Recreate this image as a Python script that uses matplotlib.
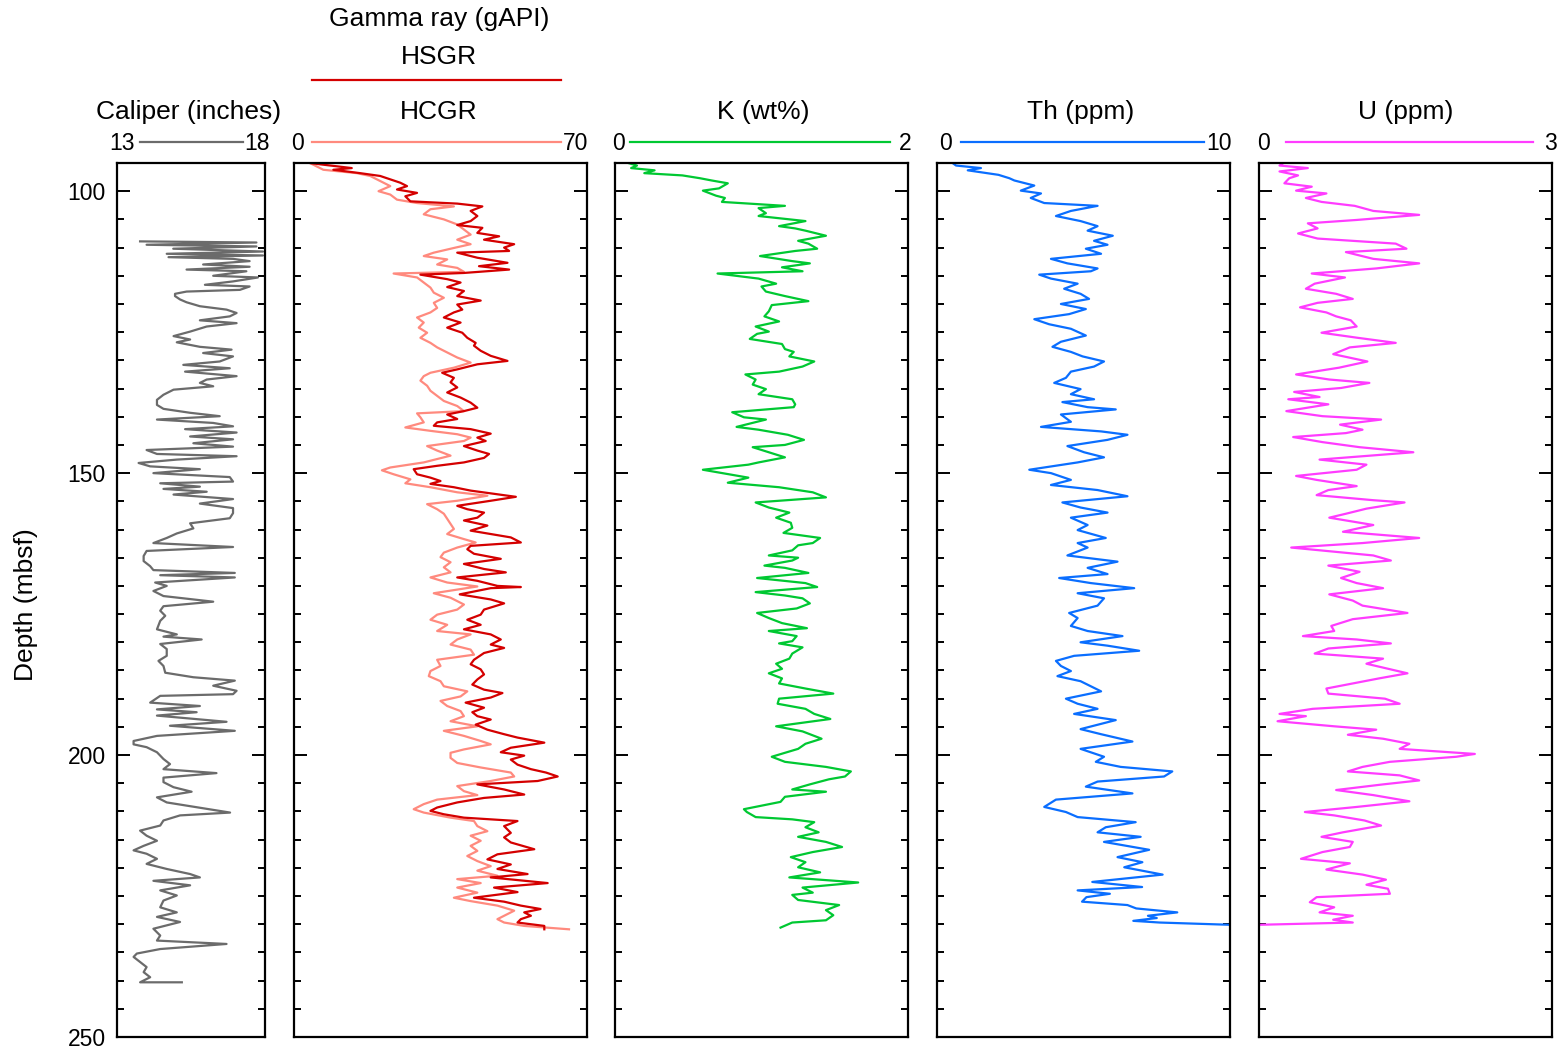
import matplotlib
matplotlib.use("Agg")
import matplotlib.pyplot as plt
from matplotlib.lines import Line2D
from matplotlib.ticker import FixedLocator, MultipleLocator

plt.rcParams['font.family'] = ['Liberation Sans', 'DejaVu Sans']

# ---------------------------------------------------------------- log data
# (depth mbsf, value) pairs for each curve
CALIPER = [(108.9,13.78),(109.1,17.71),(109.5,14.0),(109.8,17.71),(110.2,14.9),(110.7,17.93),(111.1,14.68),(111.4,17.93),(111.7,14.74),(112.0,16.92),(112.4,17.48),(113.0,15.91),(113.4,17.48),(113.9,15.35),(114.2,17.37),(115.0,16.25),(115.3,17.76),(116.0,16.92),(116.6,15.97),(116.9,17.48),(117.5,17.15),(117.8,15.35),(118.2,14.96),(118.6,14.96),(119.2,15.13),(119.7,15.35),(120.4,15.8),(121.0,16.7),(121.6,17.04),(122.2,16.81),(122.9,15.8),(123.4,17.04),(124.0,16.03),(124.9,15.47),(125.7,14.91),(126.3,15.47),(126.8,15.02),(127.6,15.8),(128.1,16.87),(128.7,15.91),(129.3,16.92),(130.2,16.47),(130.8,15.24),(131.4,16.81),(132.0,15.3),(132.8,17.04),(133.4,16.03),(134.0,15.8),(134.6,16.25),(135.2,14.91),(136.1,14.57),(137.0,14.35),(137.9,14.35),(138.6,14.57),(139.3,15.47),(139.9,16.47),(140.5,14.35),(141.1,16.25),(141.7,16.92),(142.2,15.3),(142.8,17.04),(143.5,15.47),(144.0,16.92),(144.7,15.58),(145.3,16.92),(145.9,14.0),(146.6,14.35),(147.0,17.04),(147.6,15.02),(148.2,13.73),(148.8,14.12),(149.3,15.8),(150.0,14.23),(150.7,16.81),(151.5,16.92),(151.8,14.46),(152.4,15.8),(152.8,14.57),(153.3,16.03),(153.8,14.91),(154.6,16.92),(155.4,15.8),(156.2,16.92),(157.1,16.92),(158.0,16.81),(158.9,15.47),(159.8,15.58),(160.7,15.02),(161.5,14.68),(162.4,14.23),(163.1,16.92),(163.8,14.0),(164.7,13.9),(165.6,13.9),(166.5,14.12),(167.2,14.23),(167.7,16.98),(168.1,14.46),(168.5,16.98),(169.4,14.29),(170.0,14.68),(170.9,14.23),(171.8,14.57),(172.3,15.41),(172.8,16.25),(173.6,14.57),(174.4,14.46),(175.3,14.63),(176.2,14.46),(177.7,14.35),(178.6,15.02),(179.0,14.57),(179.5,15.86),(180.3,14.46),(181.2,14.68),(182.4,14.68),(183.3,14.4),(184.2,14.57),(185.4,14.63),(186.2,15.58),(186.8,16.98),(187.7,16.25),(188.6,17.04),(189.2,16.92),(189.5,14.46),(190.7,14.12),(191.3,15.8),(191.9,14.35),(192.4,15.69),(193.0,14.35),(194.1,16.7),(194.8,14.79),(195.7,16.98),(196.6,14.35),(197.5,13.56),(198.1,13.56),(198.6,14.0),(199.5,14.35),(200.7,14.57),(201.6,14.79),(202.5,14.57),(203.2,16.36),(204.0,14.57),(204.8,14.57),(205.7,14.91),(206.5,15.52),(207.5,14.35),(208.4,14.68),(210.2,16.82),(210.7,15.13),(211.6,14.57),(212.5,14.46),(213.4,13.78),(214.3,14.0),(215.2,14.35),(216.1,13.9),(216.9,13.56),(217.5,14.0),(218.4,14.35),(219.3,14.0),(220.2,14.68),(221.1,15.47),(221.7,15.8),(222.3,14.23),(223.1,15.47),(224.0,14.46),(224.9,15.02),(225.8,14.57),(227.0,14.46),(227.9,15.02),(228.7,14.35),(229.6,15.13),(230.8,14.23),(232.0,14.46),(232.9,14.35),(233.5,16.7),(234.4,14.46),(235.2,13.67),(235.8,13.56),(236.7,13.78),(237.6,14.0),(238.5,13.9),(239.4,14.12),(240.3,13.78),(240.3,15.19)]

HSGR = [(95.0,3.8),(95.3,7.0),(95.9,13.8),(96.2,9.4),(96.8,15.8),(97.3,20.6),(97.9,23.0),(98.5,25.4),(99.1,27.0),(99.7,24.6),(100.3,29.4),(100.9,26.6),(101.8,27.8),(102.2,39.0),(102.7,45.0),(103.5,42.2),(104.4,43.8),(105.3,42.2),(106.0,39.0),(106.5,45.0),(107.4,43.8),(108.0,49.0),(108.6,45.4),(109.4,52.6),(110.0,50.2),(110.6,51.4),(110.9,39.0),(111.8,43.8),(112.7,51.0),(113.3,44.2),(113.9,51.4),(114.5,40.6),(114.8,30.2),(115.6,36.6),(116.2,39.8),(117.0,36.6),(117.7,40.6),(118.6,39.0),(119.4,44.6),(120.1,39.0),(121.0,40.2),(121.5,38.2),(122.4,35.8),(123.3,39.8),(124.2,36.6),(125.1,40.2),(126.0,41.4),(126.9,43.4),(127.4,43.0),(128.3,44.6),(129.2,47.0),(130.1,51.0),(130.7,43.8),(131.6,39.0),(132.2,35.4),(133.1,38.2),(133.9,37.4),(134.8,39.0),(135.7,36.6),(136.6,39.8),(137.5,42.2),(138.4,43.8),(139.0,40.6),(139.6,36.6),(140.4,39.0),(141.0,34.2),(141.6,33.4),(142.2,42.2),(143.0,47.0),(143.7,43.8),(144.3,45.8),(145.2,40.6),(146.0,43.8),(146.6,46.6),(147.3,45.4),(148.1,40.6),(148.7,34.2),(149.3,28.6),(150.2,29.4),(150.8,32.6),(151.4,35.0),(151.9,32.6),(152.5,38.2),(153.1,42.2),(154.2,53.0),(154.9,47.0),(155.8,39.0),(156.4,41.4),(157.0,45.4),(157.9,43.8),(158.4,40.6),(159.3,46.2),(160.2,42.2),(160.8,47.0),(161.4,51.8),(162.3,54.2),(162.9,42.2),(163.5,41.4),(164.3,43.0),(165.2,49.4),(166.1,40.6),(167.0,45.4),(167.6,50.6),(168.5,39.0),(169.1,43.8),(170.0,48.6),(170.2,54.2),(170.4,47.0),(171.5,39.6),(172.4,47.0),(173.1,50.2),(174.2,45.4),(175.1,44.6),(176.0,41.4),(176.9,44.6),(177.7,40.6),(178.6,47.0),(179.5,49.4),(180.4,47.0),(181.0,50.2),(181.9,45.4),(183.1,43.0),(183.9,42.2),(184.8,44.6),(185.7,45.4),(186.6,43.8),(187.5,42.6),(188.4,45.4),(189.0,49.8),(189.8,47.0),(190.7,41.0),(191.6,45.4),(192.4,42.6),(193.1,43.8),(193.7,47.0),(194.6,43.4),(195.5,46.2),(196.3,50.2),(196.9,53.4),(197.8,59.8),(198.7,51.8),(199.5,49.4),(200.1,55.0),(200.8,51.8),(201.7,53.4),(202.5,56.6),(203.1,60.2),(203.8,63.0),(204.6,58.2),(205.2,43.8),(206.1,50.2),(207.0,55.0),(207.6,45.4),(208.4,39.0),(209.3,34.2),(209.9,32.6),(210.5,35.8),(211.1,40.6),(211.7,53.4),(212.6,50.2),(213.8,51.8),(214.6,50.2),(215.5,51.8),(216.7,57.4),(217.6,48.6),(218.5,46.2),(219.4,51.8),(220.2,48.6),(221.1,55.8),(221.7,47.0),(222.7,60.6),(223.5,47.8),(224.3,53.4),(225.3,43.0),(226.0,50.2),(226.7,54.2),(227.3,58.9),(227.9,55.0),(228.5,56.6),(229.1,54.2),(229.7,53.4),(230.3,59.8),(230.9,59.8)]

HCGR = [(95.0,3.8),(95.6,5.4),(96.2,7.0),(96.8,15.0),(97.3,18.2),(98.2,20.6),(99.1,23.0),(100.0,20.2),(100.6,23.0),(101.5,24.6),(102.1,29.4),(102.7,38.2),(103.2,32.6),(104.1,31.0),(105.0,35.8),(105.9,39.0),(106.8,40.6),(107.7,42.2),(108.6,39.0),(109.4,42.2),(110.0,38.6),(110.9,33.4),(111.5,31.0),(112.1,36.6),(113.0,34.2),(113.6,39.0),(114.3,40.6),(114.6,23.8),(115.3,29.4),(116.2,31.0),(117.1,32.6),(118.0,33.4),(118.9,35.8),(119.8,33.4),(120.7,34.2),(121.5,32.6),(122.4,29.4),(123.3,31.0),(124.2,29.8),(125.1,31.8),(126.0,30.2),(126.9,32.6),(127.7,34.2),(128.6,36.6),(129.5,39.0),(130.4,42.2),(131.3,38.2),(132.2,32.6),(132.8,31.0),(133.6,30.2),(134.5,31.8),(135.4,32.6),(136.3,34.2),(137.2,35.8),(138.1,39.0),(139.0,40.6),(139.4,29.4),(140.1,30.2),(141.0,31.0),(141.9,26.6),(142.5,32.6),(143.1,39.0),(143.7,42.2),(144.3,40.6),(145.2,31.8),(146.0,34.2),(146.9,37.4),(147.5,34.2),(148.1,31.0),(149.0,23.0),(149.5,21.0),(150.2,23.8),(151.1,27.8),(151.8,26.6),(152.5,32.6),(153.4,39.0),(154.0,46.2),(154.9,39.0),(155.5,31.8),(156.4,34.2),(157.2,35.8),(158.1,36.6),(159.0,37.4),(159.9,38.2),(160.8,36.6),(161.7,40.6),(162.3,43.4),(163.2,39.0),(164.1,35.8),(164.9,35.0),(165.8,37.4),(166.7,35.8),(167.6,37.4),(168.5,32.6),(169.4,36.6),(170.1,43.8),(171.3,33.4),(172.1,37.4),(173.3,40.6),(174.2,39.0),(175.1,34.2),(176.0,32.6),(176.9,36.6),(178.0,34.2),(178.6,42.2),(179.5,39.0),(180.4,37.4),(181.3,42.2),(182.2,43.0),(183.1,34.2),(184.2,35.0),(185.1,32.6),(186.0,32.2),(186.9,35.0),(187.8,35.8),(188.7,41.4),(189.6,39.8),(190.4,35.0),(191.3,36.6),(192.2,39.8),(193.1,40.6),(194.0,37.4),(194.9,43.8),(195.7,35.8),(196.6,40.6),(197.5,44.6),(198.1,47.0),(199.0,40.6),(199.6,37.4),(200.5,37.4),(201.4,39.0),(202.2,44.6),(203.1,51.8),(203.8,52.6),(204.6,47.0),(205.5,39.0),(206.4,40.6),(207.1,43.8),(207.9,34.2),(208.7,31.0),(209.6,28.6),(210.2,31.0),(211.1,37.4),(211.7,43.0),(212.6,43.8),(213.5,46.2),(214.3,42.2),(215.2,44.6),(216.1,42.2),(217.0,43.8),(217.9,41.4),(218.8,43.8),(219.7,47.0),(220.5,43.8),(221.4,48.6),(222.0,39.0),(222.7,44.6),(223.5,39.0),(224.4,43.8),(225.3,38.2),(225.9,42.2),(226.7,48.6),(227.6,52.6),(228.5,50.2),(229.1,48.6),(229.7,50.2),(230.3,55.0),(230.9,65.7)]

POTASSIUM = [(95.0,0.09),(95.45,0.15),(95.9,0.11),(96.3,0.27),(96.8,0.2),(97.2,0.46),(97.7,0.58),(98.1,0.66),(98.6,0.77),(99.5,0.71),(99.9,0.6),(100.8,0.69),(101.2,0.75),(101.9,0.73),(102.6,1.16),(103.0,0.98),(103.9,1.03),(104.4,0.98),(104.8,1.12),(105.3,1.3),(106.2,1.12),(106.6,1.23),(107.0,1.3),(107.9,1.44),(108.8,1.25),(109.3,1.32),(110.2,1.38),(110.6,1.23),(111.5,0.99),(112.4,1.21),(112.8,1.33),(113.5,1.14),(114.2,1.28),(114.6,0.7),(115.5,0.98),(116.4,1.1),(116.9,1.0),(117.8,1.03),(118.6,1.16),(119.5,1.32),(120.2,1.07),(121.3,1.05),(122.2,1.02),(123.1,1.12),(124.0,0.96),(124.9,1.05),(125.3,0.97),(126.2,0.92),(127.1,1.14),(128.0,1.16),(128.5,1.22),(129.3,1.19),(130.2,1.36),(131.1,1.28),(132.0,1.12),(132.5,0.89),(133.4,0.96),(134.3,0.94),(135.1,1.03),(136.0,0.98),(136.9,1.21),(137.8,1.23),(138.3,1.22),(139.2,0.8),(140.1,0.88),(140.5,1.03),(141.8,0.83),(142.3,0.98),(143.2,1.18),(144.1,1.29),(145.0,1.16),(145.4,0.94),(146.3,1.05),(147.2,1.16),(148.1,0.98),(148.5,0.91),(149.4,0.6),(149.9,0.71),(150.8,0.91),(151.7,0.77),(152.5,1.12),(153.4,1.35),(154.3,1.44),(155.2,0.96),(156.1,1.05),(157.0,1.19),(157.9,1.1),(158.8,1.2),(159.7,1.21),(160.6,1.15),(161.5,1.4),(162.4,1.35),(162.8,1.25),(163.7,1.21),(164.6,1.05),(165.0,1.25),(165.5,1.21),(166.4,1.02),(166.8,1.16),(167.7,1.32),(168.6,0.97),(169.5,1.3),(170.2,1.38),(171.1,0.96),(171.7,1.16),(172.2,1.28),(173.1,1.33),(174.0,1.24),(174.8,0.97),(175.7,1.05),(176.6,1.14),(177.5,1.31),(178.0,1.05),(178.9,1.24),(179.8,1.21),(180.2,1.12),(180.9,1.28),(182.0,1.21),(182.9,1.19),(183.8,1.1),(184.7,1.14),(185.5,1.05),(186.4,1.14),(187.3,1.12),(188.2,1.3),(189.1,1.49),(190.0,1.12),(190.9,1.11),(191.8,1.3),(192.7,1.36),(193.6,1.47),(194.9,1.1),(195.8,1.28),(197.1,1.41),(198.0,1.3),(198.9,1.25),(200.3,1.07),(201.2,1.16),(202.1,1.44),(202.9,1.61),(203.8,1.57),(204.3,1.46),(205.2,1.33),(206.1,1.21),(206.5,1.44),(207.4,1.16),(208.3,1.13),(209.6,0.88),(210.1,0.9),(211.0,0.96),(211.4,1.21),(211.9,1.36),(212.8,1.3),(213.7,1.39),(214.5,1.25),(215.4,1.44),(216.3,1.55),(217.2,1.35),(218.1,1.2),(219.0,1.3),(219.9,1.25),(220.8,1.4),(221.7,1.19),(222.6,1.66),(223.5,1.28),(224.4,1.35),(224.8,1.21),(225.7,1.25),(226.6,1.53),(227.5,1.44),(228.4,1.49),(229.3,1.44),(229.7,1.21),(230.6,1.13)]

THORIUM = [(95.0,0.53),(95.45,0.65),(95.9,1.5),(96.3,1.05),(97.1,2.1),(97.7,2.47),(98.1,2.64),(99.0,3.32),(99.9,2.86),(100.4,3.55),(101.2,3.2),(102.1,3.66),(102.6,5.48),(103.5,4.57),(104.4,4.06),(105.3,4.9),(106.2,5.48),(107.0,5.14),(107.9,6.0),(108.8,5.36),(109.5,5.82),(110.2,5.08),(111.1,5.6),(112.0,3.89),(112.8,4.45),(113.7,5.48),(114.2,5.25),(114.8,3.49),(115.5,3.89),(116.4,4.8),(117.3,4.34),(118.2,4.9),(119.1,5.19),(120.0,4.23),(120.9,5.08),(121.8,4.51),(122.7,3.32),(123.6,3.83),(124.4,4.57),(125.6,5.08),(126.7,4.23),(127.6,3.94),(128.5,4.57),(129.3,4.97),(130.2,5.7),(131.1,5.36),(132.0,4.57),(133.1,4.4),(134.0,4.0),(135.1,4.9),(136.0,4.57),(136.9,5.36),(137.4,4.28),(138.3,5.14),(138.7,6.1),(139.6,4.23),(140.9,4.57),(141.8,3.55),(142.6,5.6),(143.2,6.5),(144.1,5.82),(145.2,4.45),(146.3,5.02),(147.2,5.7),(148.1,4.8),(149.4,3.15),(150.0,3.89),(151.2,4.57),(152.1,3.89),(153.0,5.48),(154.1,6.5),(155.2,4.28),(156.1,4.9),(157.0,5.82),(157.9,4.57),(159.2,5.14),(160.1,4.8),(161.5,5.76),(162.4,4.8),(163.2,5.14),(164.6,4.45),(165.7,6.16),(166.8,5.14),(167.9,5.82),(168.6,4.17),(169.5,5.25),(170.4,6.73),(171.3,4.8),(172.2,5.7),(173.5,5.48),(174.8,4.51),(175.7,4.8),(177.1,4.57),(178.0,5.14),(178.9,6.33),(180.0,4.9),(180.6,5.82),(181.5,6.9),(182.4,4.68),(183.3,4.06),(184.2,4.23),(185.1,4.57),(186.0,4.11),(186.9,4.9),(187.8,5.25),(188.7,5.6),(190.0,4.4),(190.9,4.8),(191.8,5.48),(192.7,4.68),(193.8,6.1),(195.4,4.9),(196.3,5.6),(197.6,6.67),(198.9,4.9),(200.3,5.7),(201.2,5.42),(202.1,6.27),(202.9,8.03),(203.8,7.75),(204.7,5.48),(205.6,5.08),(206.8,6.67),(207.9,4.06),(209.2,3.66),(210.1,4.4),(211.0,4.8),(211.9,6.78),(212.8,5.76),(213.7,5.48),(214.5,6.95),(215.4,5.7),(216.8,7.24),(218.1,6.16),(219.0,7.01),(219.9,6.39),(221.2,7.7),(222.5,5.3),(223.4,7.0),(224.0,4.8),(224.6,5.9),(225.2,5.1),(226.0,4.95),(226.6,6.5),(227.2,6.8),(227.9,8.2),(228.5,7.2),(228.9,7.5),(229.4,6.7),(229.7,7.6),(230.1,10.0)]

URANIUM = [(95.0,0.25),(95.45,0.21),(95.9,0.5),(96.5,0.21),(97.2,0.4),(97.7,0.31),(98.6,0.26),(99.2,0.54),(99.9,0.38),(100.4,0.69),(101.2,0.48),(101.9,0.64),(102.6,0.98),(103.5,1.17),(104.2,1.64),(105.1,1.0),(105.7,0.5),(106.6,0.6),(107.5,0.4),(108.4,0.6),(109.3,1.4),(110.2,1.51),(110.8,0.89),(112.0,1.17),(112.8,1.64),(113.7,1.2),(114.6,0.54),(115.3,0.88),(116.4,0.57),(117.3,0.48),(118.2,0.79),(119.1,0.96),(119.8,0.6),(120.6,0.42),(121.5,0.69),(122.2,0.79),(122.9,0.94),(124.0,1.0),(125.1,0.64),(126.0,1.01),(126.9,1.4),(127.7,0.93),(128.9,0.76),(130.2,1.11),(131.3,0.82),(132.5,0.38),(133.4,0.72),(134.0,1.13),(134.9,0.84),(135.6,0.36),(136.5,0.62),(136.9,0.3),(137.8,0.71),(139.0,0.28),(139.9,0.65),(140.5,1.25),(141.4,0.83),(142.3,1.06),(142.9,0.89),(143.6,0.35),(144.5,0.65),(145.4,1.03),(146.3,1.58),(147.6,0.62),(148.5,1.1),(149.4,1.0),(150.5,0.38),(151.2,0.59),(152.3,1.0),(153.0,0.71),(153.9,0.59),(154.8,1.17),(155.2,1.49),(156.3,1.1),(157.2,0.89),(157.9,0.72),(159.2,1.17),(160.4,0.86),(161.5,1.64),(162.4,1.06),(163.2,0.33),(164.6,1.17),(165.5,1.35),(166.4,0.71),(167.5,1.03),(168.6,0.84),(169.5,1.0),(170.4,1.27),(171.5,0.72),(172.6,0.96),(173.5,1.06),(174.8,1.52),(175.9,0.96),(177.1,0.74),(178.0,0.77),(178.9,0.45),(179.5,1.0),(180.2,1.35),(181.1,0.71),(182.0,0.57),(182.9,1.27),(183.8,1.1),(184.7,1.32),(185.5,1.52),(186.4,1.23),(187.3,0.96),(188.2,0.69),(189.1,0.71),(190.0,1.29),(190.9,1.44),(191.8,0.55),(192.7,0.21),(193.1,0.48),(194.0,0.19),(194.9,0.77),(195.5,1.2),(196.4,0.91),(197.1,1.27),(198.0,1.54),(198.9,1.44),(199.8,2.21),(200.3,2.02),(201.2,1.34),(202.1,1.06),(202.9,0.91),(203.6,1.44),(204.5,1.64),(205.2,1.27),(206.2,0.79),(207.1,1.17),(208.2,1.54),(209.2,1.0),(210.1,0.47),(210.7,0.77),(211.6,1.08),(212.5,1.25),(213.7,0.86),(214.5,0.64),(215.4,0.96),(216.3,0.93),(217.2,0.65),(218.4,0.43),(219.2,0.93),(220.3,0.69),(221.2,1.06),(222.1,1.3),(223.0,1.1),(223.7,1.32),(224.6,1.34),(225.2,0.59),(226.1,0.52),(227.0,0.77),(227.9,0.62),(228.5,0.96),(229.2,0.76),(229.7,0.96),(230.1,0.0)]

DEPTH_RANGE = (250, 95)
DEPTH_MAJOR = [100, 150, 200, 250]
DEPTH_LABEL = "Depth (mbsf)"

# ---------------------------------------------------------------- layout
W, H = 1567, 1054
fig = plt.figure(figsize=(W / 100, H / 100), dpi=100)


def fx(px):
    return px / W


def fy(py):
    return 1 - py / H


TOP, BOT = 163, 1037
GRAY = '#6b6b6b'
RED = '#d40000'
SALMON = '#ff8a7e'
GREEN = '#00c832'
BLUE = '#0a6eff'
MAGENTA = '#ff3cff'

# track: pixel extent, scale, title, scale label positions, scale line extent, curves
tracks = [
    dict(l=117, r=265, lim=(13, 18), title='Caliper (inches)', tx=189,
         lab=('13', 122.5, '18', 256.5), line=(140, 243), lc=GRAY,
         curves=[(CALIPER, GRAY)]),
    dict(l=294, r=587, lim=(0, 70), title='HCGR', tx=439,
         lab=('0', 297, '70', 575.5), line=(312, 561), lc=SALMON,
         curves=[(HCGR, SALMON), (HSGR, RED)]),
    dict(l=615, r=908, lim=(0, 2), title='K (wt%)', tx=763,
         lab=('0', 618.5, '2', 905.5), line=(630, 890), lc=GREEN,
         curves=[(POTASSIUM, GREEN)]),
    dict(l=937, r=1230, lim=(0, 10), title='Th (ppm)', tx=1081,
         lab=('0', 945, '10', 1219.5), line=(961, 1204), lc=BLUE,
         curves=[(THORIUM, BLUE)]),
    dict(l=1259, r=1552, lim=(0, 3), title='U (ppm)', tx=1406,
         lab=('0', 1263.5, '3', 1550), line=(1286, 1533), lc=MAGENTA,
         curves=[(URANIUM, MAGENTA)]),
]

TITLE_FS = 19
SCALE_FS = 16.5

for i, t in enumerate(tracks):
    ax = fig.add_axes([fx(t['l']), fy(BOT), fx(t['r'] - t['l']), (BOT - TOP) / H])
    for data, color in t['curves']:
        d, v = zip(*data)
        ax.plot(v, d, color=color, lw=1.6, solid_joinstyle='round')
    ax.set_xlim(*t['lim'])
    ax.set_ylim(*DEPTH_RANGE)
    ax.set_xticks([])
    ax.yaxis.set_major_locator(FixedLocator(DEPTH_MAJOR))
    ax.yaxis.set_minor_locator(MultipleLocator(5))
    ax.tick_params(axis='y', which='both', direction='in', left=True, right=True,
                   width=1.4, color='black')
    ax.tick_params(axis='y', which='major', length=9.5, pad=8,
                   labelsize=SCALE_FS, labelleft=(i == 0))
    ax.tick_params(axis='y', which='minor', length=5)
    for s in ax.spines.values():
        s.set_linewidth(1.6)

    # header: title, scale labels and colour key line
    fig.text(fx(t['tx']), fy(119), t['title'], ha='center', va='baseline',
             fontsize=TITLE_FS)
    l0, x0, l1, x1 = t['lab']
    fig.text(fx(x0), fy(150), l0, ha='center', va='baseline', fontsize=SCALE_FS)
    fig.text(fx(x1), fy(150), l1, ha='center', va='baseline', fontsize=SCALE_FS)
    fig.add_artist(Line2D([fx(t['line'][0]), fx(t['line'][1])], [fy(142), fy(142)],
                          color=t['lc'], lw=1.6))

# gamma ray header extras
fig.text(fx(439), fy(26), 'Gamma ray (gAPI)', ha='center', va='baseline', fontsize=TITLE_FS)
fig.text(fx(439), fy(64), 'HSGR', ha='center', va='baseline', fontsize=TITLE_FS)
fig.add_artist(Line2D([fx(312), fx(561)], [fy(80), fy(80)], color=RED, lw=1.6))

fig.text(fx(26), fy(605), DEPTH_LABEL, rotation=90, ha='center', va='center',
         fontsize=TITLE_FS)

fig.savefig('out.png', dpi=100)
